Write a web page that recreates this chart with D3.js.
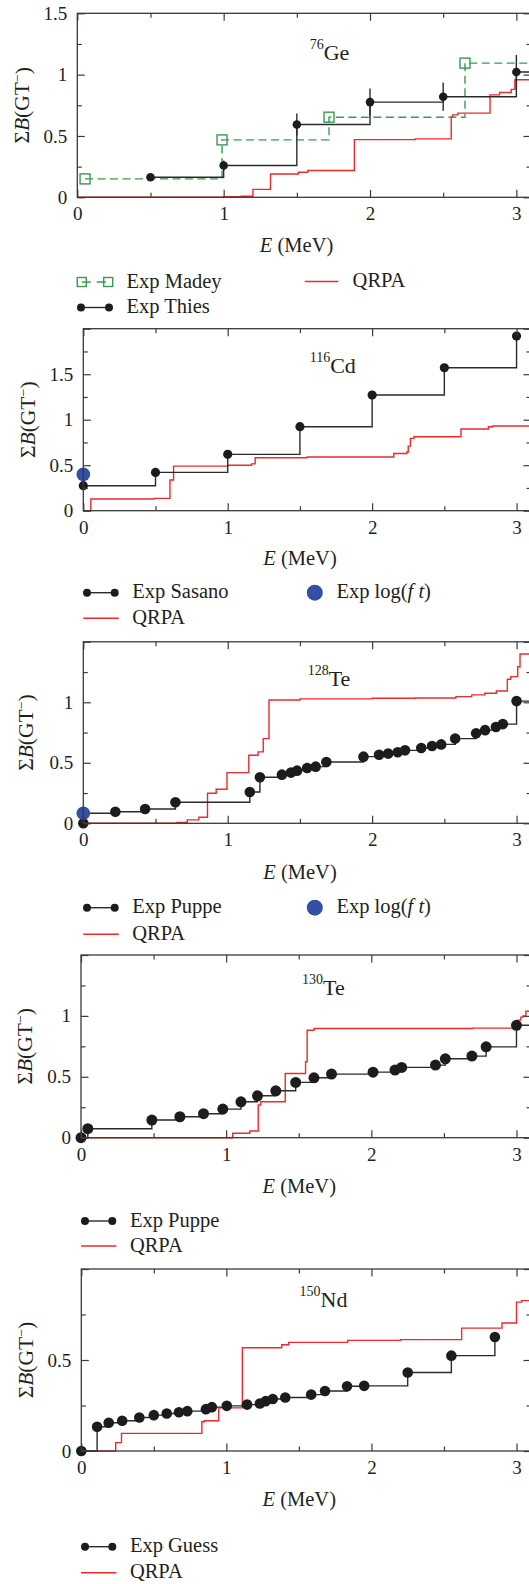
<!DOCTYPE html>
<html><head><meta charset="utf-8">
<script src="https://cdn.jsdelivr.net/npm/d3@7"></script>
<style>
body{margin:0;background:#fff;overflow:hidden}
svg{display:block}
svg text{font-family:"Liberation Serif","DejaVu Serif",serif !important;fill:#231f20}
</style></head><body>
<svg id="c" width="529" height="1584" font-family="Liberation Serif"></svg>
<script>
// ---------------- DATA ----------------
const eTicksMajor = [0, 1, 2, 3];
const eTicksMinor = [0.5, 1.5, 2.5];

// 76Ge
const geMadeyE = [0.053, 0.989, 1.72, 2.649];
const geMadeyB = [0.150, 0.468, 0.653, 1.094];
const geThiesE = [0.5, 1.0, 1.5, 2.0, 2.5, 3.0];
const geThiesB = [0.163, 0.259, 0.594, 0.776, 0.820, 1.021];
const geThiesErr = [0.02, 0.04, 0.09, 0.11, 0.115, 0.14];
const geQrpaE = [0, 1.0, 1.12, 1.2, 1.32, 1.51, 1.575, 1.893, 2.31, 2.555, 2.565, 2.6, 2.82, 2.885, 2.965, 2.99];
const geQrpaB = [0, 0.004, 0.008, 0.065, 0.19, 0.204, 0.218, 0.47, 0.476, 0.658, 0.672, 0.686, 0.835, 0.854, 0.88, 0.958];

// 116Cd
const cdSasanoE = [0, 0.5, 1.0, 1.5, 2.0, 2.5, 3.0];
const cdSasanoB = [0.275, 0.421, 0.619, 0.923, 1.271, 1.571, 1.919];
const cdLogftE = [0];
const cdLogftB = [0.399];
const cdQrpaE = [0, 0.052, 0.49, 0.6, 0.625, 1.0, 1.165, 1.19, 1.55, 2.15, 2.24, 2.25, 2.265, 2.29, 2.615, 2.805, 2.835];
const cdQrpaB = [0, 0.128, 0.135, 0.337, 0.49, 0.5, 0.515, 0.582, 0.59, 0.628, 0.645, 0.71, 0.795, 0.813, 0.898, 0.923, 0.93];

// 128Te
const te128PuppeE = [0, 0, 0.222, 0.428, 0.638, 1.153, 1.223, 1.375, 1.438, 1.48, 1.55, 1.609, 1.683, 1.94, 2.048, 2.111, 2.177, 2.228, 2.34, 2.415, 2.478, 2.575, 2.72, 2.782, 2.857, 2.905, 3.0];
const te128PuppeB = [0, 0.083, 0.096, 0.118, 0.174, 0.259, 0.380, 0.402, 0.419, 0.435, 0.457, 0.468, 0.507, 0.551, 0.567, 0.576, 0.587, 0.603, 0.622, 0.639, 0.652, 0.700, 0.744, 0.770, 0.796, 0.820, 1.010];
const te128LogftE = [0];
const te128LogftB = [0.083];
const te128QrpaE = [0, 0.65, 0.72, 0.80, 0.86, 0.92, 0.995, 1.146, 1.21, 1.246, 1.286, 1.5, 2.0, 2.3, 2.58, 2.69, 2.78, 2.86, 2.936, 2.96, 3.008, 3.024];
const te128QrpaB = [0, 0.008, 0.028, 0.05, 0.248, 0.281, 0.419, 0.562, 0.59, 0.70, 1.019, 1.028, 1.033, 1.036, 1.047, 1.061, 1.075, 1.093, 1.19, 1.212, 1.294, 1.399];

// 130Te
const te130PuppeE = [0, 0.047, 0.488, 0.681, 0.844, 0.977, 1.102, 1.216, 1.342, 1.479, 1.605, 1.726, 2.012, 2.163, 2.209, 2.442, 2.51, 2.693, 2.791, 3.0];
const te130PuppeB = [0, 0.074, 0.145, 0.172, 0.197, 0.235, 0.295, 0.344, 0.385, 0.454, 0.492, 0.522, 0.538, 0.555, 0.577, 0.596, 0.648, 0.670, 0.746, 0.923];
const te130QrpaE = [0, 1.045, 1.163, 1.221, 1.237, 1.407, 1.547, 1.558, 1.605, 2.7, 2.98, 2.995, 3.01, 3.03, 3.045, 3.065];
const te130QrpaB = [0, 0.036, 0.055, 0.268, 0.295, 0.527, 0.623, 0.882, 0.896, 0.9, 0.91, 0.94, 0.965, 0.99, 1.0, 1.038];

// 150Nd
const ndGuessE = [0, 0.109, 0.189, 0.282, 0.40, 0.5, 0.589, 0.673, 0.731, 0.859, 0.9, 1.003, 1.143, 1.231, 1.271, 1.32, 1.406, 1.585, 1.68, 1.832, 1.95, 2.25, 2.551, 2.851];
const ndGuessB = [0, 0.133, 0.155, 0.166, 0.184, 0.197, 0.206, 0.213, 0.219, 0.230, 0.241, 0.248, 0.255, 0.261, 0.274, 0.286, 0.294, 0.310, 0.330, 0.356, 0.358, 0.431, 0.524, 0.626];
const ndQrpaE = [0, 0.237, 0.277, 0.831, 0.847, 0.947, 1.11, 1.382, 1.429, 1.836, 2.2, 2.622, 2.9, 3.0, 3.035];
const ndQrpaB = [0, 0.046, 0.097, 0.161, 0.166, 0.237, 0.567, 0.584, 0.597, 0.608, 0.612, 0.675, 0.703, 0.818, 0.826];

const nuclei = [["76","Ge"],["116","Cd"],["128","Te"],["130","Te"],["150","Nd"]];
const yTickLabelSets = [[0,0.5,1,1.5],[0,0.5,1,1.5],[0,0.5,1],[0,0.5,1],[0,0.5]];
const yMaxes = [1.5, 2.0, 1.5, 1.5, 1.0];

// ---------------- DRAW ----------------
const svg = d3.select("#c");
svg.append("rect").attr("width",529).attr("height",1584).attr("fill","#fff");
const E_MAX = 3.1, RIGHT = 531;
const C_BLACK = "#2b2b2b", C_RED = "#ee2a2a", C_GREEN = "#3a9a4e", C_BLUE = "#3450a4", C_AXIS = "#3a3a3a";
const FONT = '"Liberation Serif","DejaVu Serif",serif';
const zip = (E, B) => E.map((e, i) => [e, B[i]]);
const fmt = v => (v === 0 ? "0" : String(v));

const panels = [
  {left:77.3, top:13.3, bottom:197.3, ylab:[21.9,105.3], title:[296.6,251.7], nuc:[309.7,56], r:4.3,
   qrpa: zip(geQrpaE, geQrpaB),
   exp: zip(geThiesE, geThiesB), expErr: geThiesErr, expExtend:true,
   madey: zip(geMadeyE, geMadeyB),
   legend:[
     {type:"madey", x0:77.3, x1:112.7, y:282, tx:126.5, text:"Exp Madey"},
     {type:"qrpa", x0:304.7, x1:338.4, y:281.5, tx:352.6, text:"QRPA"},
     {type:"exp", x0:77.3, x1:112.7, d0:81, d1:109, y:307.5, tx:126.5, text:"Exp Thies"}]},
  {left:83.3, top:328.7, bottom:510.7, ylab:[27,419.7], title:[300,565], nuc:[309.7,369.3], r:4.6,
   qrpa: zip(cdQrpaE, cdQrpaB),
   exp: zip(cdSasanoE, cdSasanoB), expExtend:false,
   logft: zip(cdLogftE, cdLogftB),
   legend:[
     {type:"exp", x0:83.3, x1:118.8, d0:87, d1:114.7, y:592.7, tx:132.3, text:"Exp Sasano"},
     {type:"logft", cx:314.8, y:592.7, tx:336.4},
     {type:"qrpa", x0:83.3, x1:118.8, y:618.3, tx:132.3, text:"QRPA"}]},
  {left:83.3, top:641.8, bottom:823.3, ylab:[25.3,732.5], title:[300,879.3], nuc:[307.7,681.7], r:5.3,
   qrpa: zip(te128QrpaE, te128QrpaB),
   exp: zip(te128PuppeE, te128PuppeB), expExtend:true,
   logft: zip(te128LogftE, te128LogftB),
   legend:[
     {type:"exp", x0:83.3, x1:118.8, d0:87, d1:114.7, y:907.7, tx:132.3, text:"Exp Puppe"},
     {type:"logft", cx:314.8, y:907.7, tx:336.4},
     {type:"qrpa", x0:83.3, x1:118.8, y:934.3, tx:132.3, text:"QRPA"}]},
  {left:81, top:955, bottom:1137.7, ylab:[24.3,1046.3], title:[299.3,1193.3], nuc:[302,990.7], r:5.5,
   qrpa: zip(te130QrpaE, te130QrpaB),
   exp: zip(te130PuppeE, te130PuppeB), expExtend:true,
   legend:[
     {type:"exp", x0:81, x1:116.4, d0:85, d1:112.3, y:1221, tx:129.9, text:"Exp Puppe"},
     {type:"qrpa", x0:81, x1:116.4, y:1246, tx:129.9, text:"QRPA"}]},
  {left:81.3, top:1269, bottom:1451, ylab:[25.3,1360], title:[299.3,1506], nuc:[299.6,1302.7], r:5.3,
   qrpa: zip(ndQrpaE, ndQrpaB),
   exp: zip(ndGuessE, ndGuessB), expExtend:false,
   legend:[
     {type:"exp", x0:81, x1:116.4, d0:85, d1:112.3, y:1546.7, tx:129.9, text:"Exp Guess"},
     {type:"qrpa", x0:81, x1:116.4, y:1572.7, tx:129.9, text:"QRPA"}]}
];

panels.forEach((p, i) => {
  const yMax = yMaxes[i];
  const x = d3.scaleLinear().domain([0, E_MAX]).range([p.left, RIGHT]);
  const y = d3.scaleLinear().domain([0, yMax]).range([p.bottom, p.top]);
  const g = svg.append("g");
  const step = d3.line().x(d => x(d[0])).y(d => y(d[1])).curve(d3.curveStepAfter);

  // QRPA (red)
  const q = p.qrpa.concat([[E_MAX, p.qrpa[p.qrpa.length-1][1]]]);
  g.append("path").attr("d", step(q)).attr("fill","none").attr("stroke",C_RED).attr("stroke-width",1.4);

  // Madey (green dashed + open squares)
  if (p.madey) {
    const m = p.madey.concat([[E_MAX, p.madey[p.madey.length-1][1]]]);
    g.append("path").attr("d", step(m)).attr("fill","none").attr("stroke",C_GREEN)
      .attr("stroke-width",1.4).attr("stroke-dasharray","8,4.5");
    g.selectAll(".sq").data(p.madey).enter().append("rect")
      .attr("x", d => x(d[0]) - 5).attr("y", d => y(d[1]) - 5).attr("width",10).attr("height",10)
      .attr("fill","none").attr("stroke",C_GREEN).attr("stroke-width",1.4);
  }

  // Experimental step (black)
  const ex = p.expExtend ? p.exp.concat([[E_MAX, p.exp[p.exp.length-1][1]]]) : p.exp;
  g.append("path").attr("d", step(ex)).attr("fill","none").attr("stroke",C_BLACK).attr("stroke-width",1.4);
  if (p.expErr) {
    g.selectAll(".eb").data(p.exp).enter().append("line")
      .attr("x1", d => x(d[0])).attr("x2", d => x(d[0]))
      .attr("y1", (d, k) => y(d[1] - p.expErr[k])).attr("y2", (d, k) => y(d[1] + p.expErr[k]))
      .attr("stroke",C_BLACK).attr("stroke-width",1.4);
  }
  g.selectAll(".dot").data(p.exp).enter().append("circle")
    .attr("cx", d => x(d[0])).attr("cy", d => y(d[1])).attr("r", p.r).attr("fill","#1c1c1c");

  if (p.logft) {
    g.selectAll(".lf").data(p.logft).enter().append("circle")
      .attr("cx", d => x(d[0])).attr("cy", d => y(d[1])).attr("r", 6.8).attr("fill",C_BLUE);
  }

  // Axes (inward ticks)
  const yMajor = d3.range(0, yMax + 1e-9, 0.5);
  const yMinor = d3.range(0.25, yMax, 0.5);
  const labels = yTickLabelSets[i];
  const axStyle = sel => {
    sel.attr("font-family", FONT).attr("font-size", 19);
    sel.select(".domain").remove();
    sel.selectAll(".tick line").attr("stroke",C_AXIS).attr("stroke-width",1.2);
    sel.selectAll("text").style("font-size","19px").attr("fill","#231f20");
  };
  g.append("g").attr("transform",`translate(0,${p.bottom})`)
    .call(d3.axisBottom(x).tickValues(eTicksMajor).tickSize(-7.5).tickPadding(9.5).tickFormat(fmt)).call(axStyle);
  g.append("g").attr("transform",`translate(0,${p.bottom})`)
    .call(d3.axisBottom(x).tickValues(eTicksMinor).tickSize(-4.5).tickFormat("")).call(axStyle);
  g.append("g").attr("transform",`translate(0,${p.top})`)
    .call(d3.axisTop(x).tickValues(eTicksMajor).tickSize(-7.5).tickFormat("")).call(axStyle);
  g.append("g").attr("transform",`translate(0,${p.top})`)
    .call(d3.axisTop(x).tickValues(eTicksMinor).tickSize(-4.5).tickFormat("")).call(axStyle);
  g.append("g").attr("transform",`translate(${p.left},0)`)
    .call(d3.axisLeft(y).tickValues(yMajor).tickSize(-7.5).tickPadding(10)
      .tickFormat(v => labels.some(l => Math.abs(l - v) < 1e-9) ? fmt(v) : "")).call(axStyle);
  g.append("g").attr("transform",`translate(${p.left},0)`)
    .call(d3.axisLeft(y).tickValues(yMinor).tickSize(-4.5).tickFormat("")).call(axStyle);
  g.append("g").attr("transform",`translate(${RIGHT},0)`)
    .call(d3.axisRight(y).tickValues(yMajor).tickSize(-7.5).tickFormat("")).call(axStyle);
  g.append("g").attr("transform",`translate(${RIGHT},0)`)
    .call(d3.axisRight(y).tickValues(yMinor).tickSize(-4.5).tickFormat("")).call(axStyle);

  // frame
  g.append("rect").attr("x",p.left).attr("y",p.top).attr("width",RIGHT-p.left).attr("height",p.bottom-p.top)
    .attr("fill","none").attr("stroke",C_AXIS).attr("stroke-width",1.3);

  // y label
  const yl = g.append("text").attr("transform",`translate(${p.ylab[0]+7.5},${p.ylab[1]}) rotate(-90)`)
    .attr("text-anchor","middle").style("font-size","21.5px");
  yl.append("tspan").text("Σ");
  yl.append("tspan").style("font-style","italic").text("B");
  yl.append("tspan").text("(GT");
  yl.append("tspan").attr("dy","-0.5em").style("font-size","14px").text("−");
  yl.append("tspan").attr("dy","0.33em").text(")");

  // x title
  const xt = g.append("text").attr("x",p.title[0]).attr("y",p.title[1]).attr("text-anchor","middle").style("font-size","20.5px");
  xt.append("tspan").style("font-style","italic").text("E");
  xt.append("tspan").text(" (MeV)");

  // nucleus label
  const nl = g.append("text").attr("x",p.nuc[0]).attr("y",p.nuc[1]).style("font-size","22px");
  nl.append("tspan").attr("dy","-0.5em").style("font-size","14px").text(nuclei[i][0]);
  nl.append("tspan").attr("dy","0.5em").text(nuclei[i][1]);

  // legend
  p.legend.forEach(L => {
    if (L.type === "qrpa") {
      g.append("line").attr("x1",L.x0).attr("x2",L.x1).attr("y1",L.y).attr("y2",L.y)
        .attr("stroke",C_RED).attr("stroke-width",1.4);
    } else if (L.type === "exp") {
      g.append("line").attr("x1",L.d0).attr("x2",L.d1).attr("y1",L.y).attr("y2",L.y)
        .attr("stroke",C_BLACK).attr("stroke-width",1.4);
      [L.d0, L.d1].forEach(cx => g.append("circle").attr("cx",cx).attr("cy",L.y).attr("r",4).attr("fill","#1c1c1c"));
    } else if (L.type === "madey") {
      g.append("line").attr("x1",L.x0+4.5).attr("x2",L.x1-4.5).attr("y1",L.y).attr("y2",L.y)
        .attr("stroke",C_GREEN).attr("stroke-width",1.4).attr("stroke-dasharray","9,6");
      [L.x0+4.5, L.x1-4.5].forEach(cx => g.append("rect").attr("x",cx-4.5).attr("y",L.y-4.5)
        .attr("width",9).attr("height",9).attr("fill","none").attr("stroke",C_GREEN).attr("stroke-width",1.4));
    } else if (L.type === "logft") {
      g.append("circle").attr("cx",L.cx).attr("cy",L.y).attr("r",8).attr("fill",C_BLUE);
    }
    const t = g.append("text").attr("x",L.tx).attr("y",L.y+5.5).style("font-size","20.5px");
    if (L.type === "logft") {
      t.append("tspan").text("Exp log(");
      t.append("tspan").style("font-style","italic").text("f t");
      t.append("tspan").text(")");
    } else {
      t.text(L.text);
    }
  });
});
</script>
</body></html>
